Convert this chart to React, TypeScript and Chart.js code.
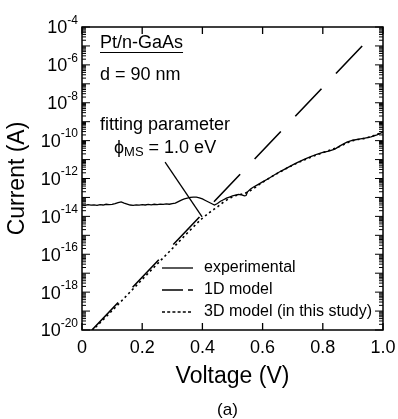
import React, { useEffect, useRef } from "react";
import { Chart, registerables } from "chart.js";

Chart.register(...registerables);

// ---- data (voltage in V, current as log10 of A) ----
const EXP_V = [
  0.0, 0.01, 0.02, 0.03, 0.04, 0.05, 0.06, 0.07, 0.08, 0.09, 0.1, 0.11, 0.12, 0.13, 0.14, 0.15,
  0.16, 0.17, 0.18, 0.19, 0.2, 0.21, 0.22, 0.23, 0.24, 0.25, 0.26, 0.27, 0.28, 0.29, 0.3, 0.31,
  0.32, 0.33, 0.34, 0.35, 0.36, 0.37, 0.38, 0.39, 0.4, 0.41, 0.42, 0.43, 0.44, 0.45, 0.46, 0.47,
  0.48, 0.49, 0.5, 0.51, 0.52, 0.53, 0.54, 0.545, 0.55, 0.56, 0.57, 0.58, 0.6, 0.62, 0.64, 0.66,
  0.68, 0.7, 0.72, 0.74, 0.76, 0.78, 0.8, 0.82, 0.84, 0.86, 0.88, 0.9, 0.92, 0.94, 0.96, 0.98, 1.0,
];
const EXP_LOG_I = [
  -13.4, -13.42, -13.38, -13.41, -13.39, -13.42, -13.38, -13.4, -13.36, -13.38, -13.37, -13.33,
  -13.27, -13.24, -13.3, -13.35, -13.4, -13.42, -13.39, -13.41, -13.38, -13.4, -13.37, -13.39,
  -13.36, -13.38, -13.35, -13.37, -13.34, -13.36, -13.33, -13.3, -13.22, -13.14, -13.08, -13.04,
  -13.0, -12.98, -12.98, -13.02, -13.08, -13.16, -13.24, -13.32, -13.4, -13.32, -13.2, -13.12,
  -13.04, -12.98, -12.92, -12.88, -12.84, -12.86, -12.92, -12.9, -12.7, -12.55, -12.45, -12.36,
  -12.18, -12.0, -11.8, -11.62, -11.45, -11.28, -11.12, -10.98, -10.85, -10.72, -10.62, -10.56,
  -10.45, -10.25, -10.08, -9.98, -9.92, -9.87, -9.8, -9.7, -9.55,
];

const MODEL1D_V = [0.033, 0.934];
const MODEL1D_LOG_I = [-20.0, -4.95];

const MODEL3D_V = [
  0.033, 0.1, 0.2, 0.3, 0.4, 0.43, 0.45, 0.47, 0.5, 0.55, 0.6, 0.65, 0.7, 0.75, 0.8, 0.85, 0.9,
  0.95, 1.0,
];
const MODEL3D_LOG_I = [
  -20.05, -18.98, -17.33, -15.7, -14.1, -13.72, -13.5, -13.25, -12.97, -12.72, -12.2, -11.72,
  -11.3, -10.94, -10.64, -10.34, -10.0, -9.84, -9.55,
];

const LEADER_V = [0.276, 0.399];
const LEADER_LOG_I = [-11.13, -14.03];

const SERIES_LABELS = ["experimental", "1D model", "3D model (in this study)"];
const X_TICKS = [0, 0.2, 0.4, 0.6, 0.8, 1.0];
const X_TICK_LABELS = ["0", "0.2", "0.4", "0.6", "0.8", "1.0"];
const Y_LABEL_EXPONENTS = [-20, -18, -16, -14, -12, -10, -8, -6, -4];
const X_TITLE = "Voltage (V)";
const Y_TITLE = "Current (A)";
const PANEL_LABEL = "(a)";
const NOTE_SAMPLE = "Pt/n-GaAs";
const NOTE_THICKNESS = "d = 90 nm";
const NOTE_FIT = "fitting parameter";
const NOTE_PHI = "ϕ";
const NOTE_PHI_SUB = "MS";
const NOTE_PHI_VALUE = " = 1.0 eV";

const FONT = '"Liberation Sans", Arial, "DejaVu Sans", sans-serif';

const toPoints = (xs: number[], logs: number[]) =>
  xs.map((v, i) => ({ x: v, y: Math.pow(10, logs[i]) }));

const decorPlugin = {
  id: "decor",
  afterDraw(chart: any) {
    const { ctx, chartArea, scales } = chart;
    const { left, right, top, bottom } = chartArea;
    const xs = scales.x;
    const ys = scales.y;
    ctx.save();
    ctx.fillStyle = "#000";
    ctx.strokeStyle = "#000";

    // frame
    ctx.lineWidth = 1.5;
    ctx.setLineDash([]);
    ctx.strokeRect(left, top, right - left, bottom - top);

    // x ticks
    ctx.lineWidth = 1.3;
    ctx.font = `18px ${FONT}`;
    ctx.textAlign = "center";
    ctx.textBaseline = "middle";
    X_TICKS.forEach((v, i) => {
      const px = xs.getPixelForValue(v);
      ctx.beginPath();
      ctx.moveTo(px, bottom);
      ctx.lineTo(px, bottom - 7);
      ctx.moveTo(px, top);
      ctx.lineTo(px, top + 7);
      ctx.stroke();
      ctx.fillText(X_TICK_LABELS[i], px, bottom + 18);
    });

    // y ticks (log)
    ctx.lineWidth = 1;
    for (let e = -20; e <= -4; e++) {
      const py = ys.getPixelForValue(Math.pow(10, e));
      ctx.beginPath();
      ctx.moveTo(left, py);
      ctx.lineTo(left + 8, py);
      ctx.moveTo(right, py);
      ctx.lineTo(right - 8, py);
      ctx.stroke();
      if (e < -4) {
        for (let m = 2; m <= 9; m++) {
          const pm = ys.getPixelForValue(m * Math.pow(10, e));
          ctx.beginPath();
          ctx.moveTo(left, pm);
          ctx.lineTo(left + 4, pm);
          ctx.moveTo(right, pm);
          ctx.lineTo(right - 4, pm);
          ctx.stroke();
        }
      }
    }

    // y labels with superscripts
    const labelRight = left - 4;
    Y_LABEL_EXPONENTS.forEach((e) => {
      const py = ys.getPixelForValue(Math.pow(10, e));
      const sup = String(e);
      ctx.font = `12px ${FONT}`;
      const supW = ctx.measureText(sup).width;
      ctx.textAlign = "left";
      ctx.textBaseline = "middle";
      ctx.fillText(sup, labelRight - supW, py - 6.5);
      ctx.font = `18px ${FONT}`;
      ctx.textAlign = "right";
      ctx.fillText("10", labelRight - supW, py + 1.5);
    });

    // axis titles
    ctx.font = `23px ${FONT}`;
    ctx.textAlign = "center";
    ctx.textBaseline = "middle";
    ctx.fillText(X_TITLE, (left + right) / 2, bottom + 47);
    ctx.save();
    ctx.translate(18, (top + bottom) / 2);
    ctx.rotate(-Math.PI / 2);
    ctx.fillText(Y_TITLE, 0, 0);
    ctx.restore();

    ctx.font = `17px ${FONT}`;
    ctx.fillText(PANEL_LABEL, (left + right) / 2 - 5, bottom + 80);

    // annotations
    ctx.font = `18px ${FONT}`;
    ctx.textAlign = "left";
    ctx.textBaseline = "middle";
    const ax = left + 18;
    ctx.fillText(NOTE_SAMPLE, ax, top + 16);
    const sw = ctx.measureText(NOTE_SAMPLE).width;
    ctx.lineWidth = 1.2;
    ctx.beginPath();
    ctx.moveTo(ax, top + 25.5);
    ctx.lineTo(ax + sw, top + 25.5);
    ctx.stroke();
    ctx.fillText(NOTE_THICKNESS, ax, top + 48);
    ctx.fillText(NOTE_FIT, ax, top + 98);
    let px = ax + 14;
    const py = top + 121;
    ctx.fillText(NOTE_PHI, px, py);
    px += ctx.measureText(NOTE_PHI).width;
    ctx.font = `13px ${FONT}`;
    ctx.fillText(NOTE_PHI_SUB, px, py + 4);
    px += ctx.measureText(NOTE_PHI_SUB).width;
    ctx.font = `18px ${FONT}`;
    ctx.fillText(NOTE_PHI_VALUE, px, py);

    // legend
    const rows = [bottom - 62, bottom - 40, bottom - 18];
    const dashes = [[], [21, 5], [3, 2.2]];
    const widths = [1.3, 1.5, 1.4];
    const lx0 = left + 80;
    const lx1 = left + 111;
    ctx.font = `16px ${FONT}`;
    rows.forEach((ry, i) => {
      ctx.lineWidth = widths[i];
      ctx.setLineDash(dashes[i]);
      ctx.beginPath();
      ctx.moveTo(lx0, ry);
      ctx.lineTo(lx1, ry);
      ctx.stroke();
      ctx.setLineDash([]);
      ctx.fillText(SERIES_LABELS[i], left + 122, ry);
    });

    ctx.restore();
  },
};

export default function App() {
  const ref = useRef<HTMLCanvasElement | null>(null);
  useEffect(() => {
    document.body.style.margin = "0";
    const canvas = ref.current;
    if (!canvas) return;
    const chart = new Chart(canvas, {
      type: "line",
      data: {
        datasets: [
          {
            label: SERIES_LABELS[0],
            data: toPoints(EXP_V, EXP_LOG_I),
            borderColor: "#000",
            borderWidth: 1.3,
            pointRadius: 0,
            tension: 0,
          },
          {
            label: SERIES_LABELS[1],
            data: toPoints(MODEL1D_V, MODEL1D_LOG_I),
            borderColor: "#000",
            borderWidth: 1.6,
            borderDash: [38, 21],
            pointRadius: 0,
          },
          {
            label: SERIES_LABELS[2],
            data: toPoints(MODEL3D_V, MODEL3D_LOG_I),
            borderColor: "#000",
            borderWidth: 1.6,
            borderDash: [2.2, 3],
            pointRadius: 0,
            cubicInterpolationMode: "monotone",
          },
          {
            label: "leader",
            data: toPoints(LEADER_V, LEADER_LOG_I),
            borderColor: "#000",
            borderWidth: 1.3,
            pointRadius: 0,
          },
        ],
      },
      options: {
        animation: false,
        responsive: false,
        parsing: true,
        layout: { padding: { left: 82, top: 27, right: 15, bottom: 89 } },
        plugins: { legend: { display: false }, tooltip: { enabled: false } },
        scales: {
          x: { type: "linear", min: 0, max: 1, display: false },
          y: { type: "logarithmic", min: 1e-20, max: 1e-4, display: false },
        },
      },
      plugins: [decorPlugin],
    });
    return () => chart.destroy();
  }, []);
  return (
    <div style={{ position: "fixed", left: 0, top: 0, width: 398, height: 419, background: "#fff" }}>
      <canvas ref={ref} width={398} height={419} />
    </div>
  );
}
